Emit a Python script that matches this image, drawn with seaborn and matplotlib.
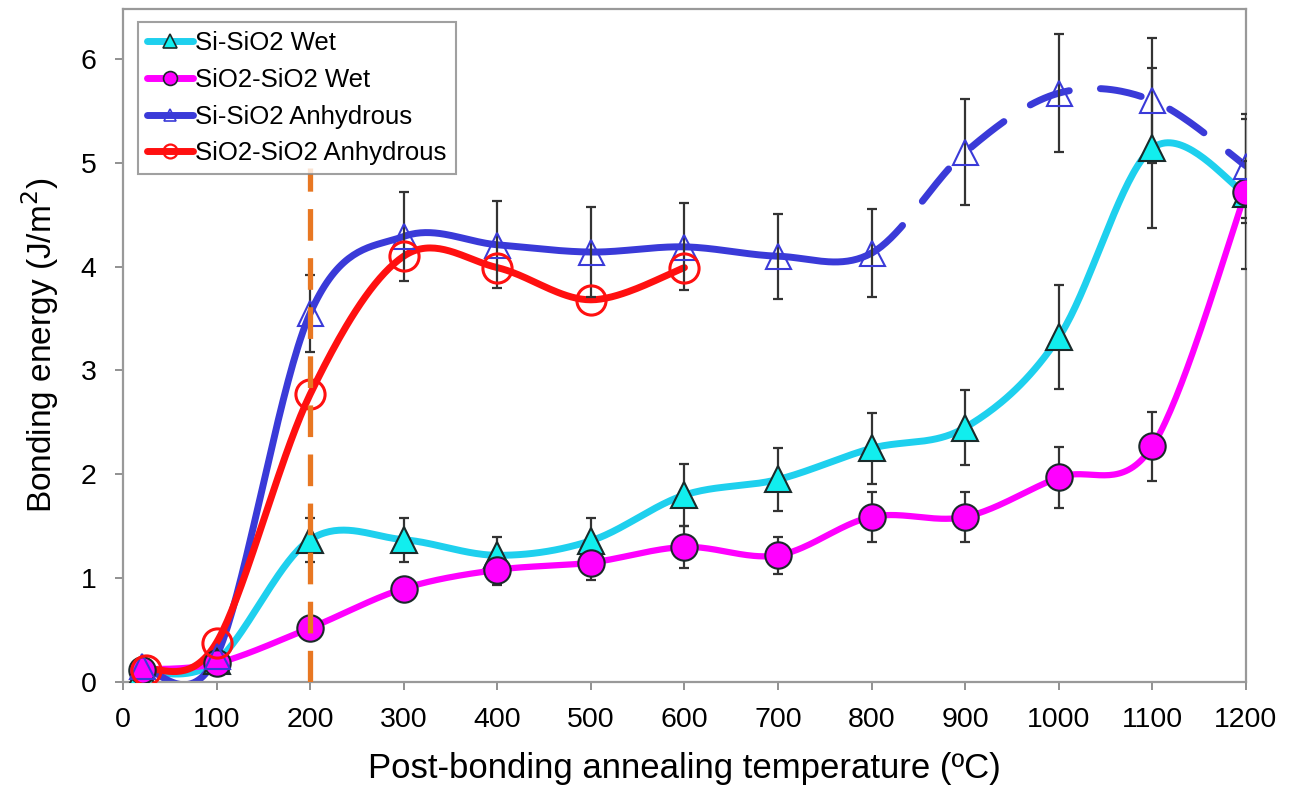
import numpy as np
import pandas as pd
import matplotlib
matplotlib.use("Agg")
import matplotlib.pyplot as plt
from matplotlib.lines import Line2D
import seaborn as sns

# ---------------- data ----------------
temps = [20, 100, 200, 300, 400, 500, 600, 700, 800, 900, 1000, 1100, 1200]

si_wet = [0.10, 0.20, 1.37, 1.37, 1.22, 1.36, 1.80, 1.95, 2.25, 2.45, 3.32, 5.14, 4.70]
si_wet_err = [0, 0, 0.21, 0.21, 0.18, 0.22, 0.30, 0.30, 0.34, 0.36, 0.50, 0.77, 0.72]

sio2_wet = [0.12, 0.18, 0.52, 0.90, 1.08, 1.15, 1.30, 1.22, 1.59, 1.59, 1.97, 2.27, 4.72]
sio2_wet_err = [0, 0, 0, 0.08, 0.15, 0.17, 0.20, 0.18, 0.24, 0.24, 0.29, 0.33, 0.30]

si_anh = [0.15, 0.25, 3.55, 4.29, 4.21, 4.14, 4.19, 4.10, 4.13, 5.10, 5.67, 5.60, 4.97]
si_anh_err = [0, 0, 0.37, 0.43, 0.42, 0.43, 0.42, 0.41, 0.42, 0.51, 0.57, 0.60, 0.50]

temps_sio2_anh = [25, 100, 200, 300, 400, 500, 600]
sio2_anh = [0.12, 0.38, 2.77, 4.10, 3.99, 3.68, 3.99]

labels = ["Si-SiO2 Wet", "SiO2-SiO2 Wet", "Si-SiO2 Anhydrous", "SiO2-SiO2 Anhydrous"]
dashed_from = 800  # anhydrous Si-SiO2 curve is dashed above this temperature
ref_temp = 200     # vertical marker line

# ---------------- helpers ----------------
def smooth(x, y, n=40):
    """Excel-like smoothed line (Catmull-Rom Bezier through the points)."""
    pts = np.column_stack([x, y]).astype(float)
    segs = []
    for i in range(len(pts) - 1):
        p0 = pts[i - 1] if i > 0 else pts[i]
        p1, p2 = pts[i], pts[i + 1]
        p3 = pts[i + 2] if i + 2 < len(pts) else pts[i + 1]
        c1 = p1 + (p2 - p0) / 6.0
        c2 = p2 - (p3 - p1) / 6.0
        t = np.linspace(0, 1, n)[:, None]
        seg = ((1 - t) ** 3) * p1 + 3 * ((1 - t) ** 2) * t * c1 + 3 * (1 - t) * t ** 2 * c2 + t ** 3 * p2
        if i > 0:
            seg = seg[1:]
        segs.append(seg)
    s = np.vstack(segs)
    return pd.DataFrame({"x": s[:, 0], "y": s[:, 1]})

# ---------------- style ----------------
sns.set_theme(style="white")
plt.rcParams["font.family"] = ["Liberation Sans", "DejaVu Sans"]
plt.rcParams["text.color"] = "black"
plt.rcParams["axes.labelcolor"] = "black"
plt.rcParams["xtick.color"] = "black"
plt.rcParams["ytick.color"] = "black"

fig = plt.figure(figsize=(12.89, 7.92), dpi=100)
ax = fig.add_axes([0.0954, 0.1389, 0.8712, 0.8497])

c_cyan_line = "#1ED0EE"
c_cyan_fill = "#11EEEE"
c_mag = "#FF00FF"
c_blue = "#3A3AD8"
c_red = "#FF1010"
c_orange = "#E87722"
c_err = "#333333"
edge_dark = "#1A2A2A"

# smoothed lines
df = smooth(temps, si_wet)
sns.lineplot(data=df, x="x", y="y", ax=ax, color=c_cyan_line, lw=5, sort=False,
             estimator=None, zorder=2, solid_capstyle="round")
df = smooth(temps, sio2_wet)
sns.lineplot(data=df, x="x", y="y", ax=ax, color=c_mag, lw=4.5, sort=False,
             estimator=None, zorder=2.1, solid_capstyle="round")
df = smooth(temps, si_anh)
solid = df[df["x"] <= dashed_from]
dash = df[df["x"] >= dashed_from]
sns.lineplot(data=solid, x="x", y="y", ax=ax, color=c_blue, lw=5, sort=False,
             estimator=None, zorder=2.2, solid_capstyle="round")
ax.plot(dash["x"], dash["y"], color=c_blue, lw=5, zorder=2.2,
        dashes=(6, 4.5), dash_capstyle="round")
df = smooth(temps_sio2_anh, sio2_anh)
sns.lineplot(data=df, x="x", y="y", ax=ax, color=c_red, lw=5, sort=False,
             estimator=None, zorder=2.3, solid_capstyle="round")

# error bars
for yv, ev in [(si_wet, si_wet_err), (sio2_wet, sio2_wet_err), (si_anh, si_anh_err)]:
    t = np.array(temps); yv = np.array(yv); ev = np.array(ev)
    m = ev > 0
    ax.errorbar(t[m], yv[m], yerr=ev[m], fmt="none", ecolor=c_err, elinewidth=1.6,
                capsize=3.5, capthick=1.6, zorder=3)

# markers
ax.plot(temps, si_wet, ls="none", marker="^", ms=19, mfc=c_cyan_fill, mec=edge_dark, mew=1.5, zorder=4)
ax.plot(temps, sio2_wet, ls="none", marker="o", ms=19, mfc=c_mag, mec=edge_dark, mew=1.5, zorder=4.1)
ax.plot(temps, si_anh, ls="none", marker="^", ms=18, mfc="none", mec=c_blue, mew=1.5, zorder=4.2)
ax.plot(temps_sio2_anh, sio2_anh, ls="none", marker="o", ms=21, mfc="none", mec=c_red, mew=2.2, zorder=4.3)

# vertical reference line
ax.plot([ref_temp, ref_temp], [0, 4.95], color=c_orange, lw=3.8, dashes=(6, 3.3), zorder=5)

# axes
ax.set_xlim(0, 1200)
ax.set_ylim(0, 6.48)
ax.set_xticks(range(0, 1201, 100))
ax.set_yticks(range(0, 7))
ax.tick_params(axis="both", which="major", labelsize=20.5, length=6, width=1.3,
               color="#888888", labelcolor="black", direction="out",
               bottom=True, left=True)
ax.tick_params(axis="x", pad=12)
ax.tick_params(axis="y", pad=13)
for s in ax.spines.values():
    s.set_color("#999999")
    s.set_linewidth(1.6)
ax.set_xlabel("Post-bonding annealing temperature (ºC)", fontsize=25, labelpad=14)
ax.set_ylabel("Bonding energy (J/m$^{2}$)", fontsize=24, labelpad=14)

# legend
handles = [
    Line2D([], [], color=c_cyan_line, lw=5, marker="^", ms=10, mfc=c_cyan_fill, mec=edge_dark, mew=1.2),
    Line2D([], [], color=c_mag, lw=5, marker="o", ms=10, mfc=c_mag, mec=edge_dark, mew=1.2),
    Line2D([], [], color=c_blue, lw=5, marker="^", ms=9, mfc="none", mec=c_blue, mew=1.2),
    Line2D([], [], color=c_red, lw=5, marker="o", ms=10, mfc="none", mec=c_red, mew=1.6),
]
leg = ax.legend(handles, labels, loc="upper left", bbox_to_anchor=(0.013, 0.981),
                borderaxespad=0, fontsize=18.5, frameon=True, fancybox=False,
                handlelength=1.8, handletextpad=0.1, labelspacing=0.5,
                borderpad=0.35, edgecolor="#888888")
leg.get_frame().set_linewidth(1.5)

fig.savefig("out.png", dpi=100)
